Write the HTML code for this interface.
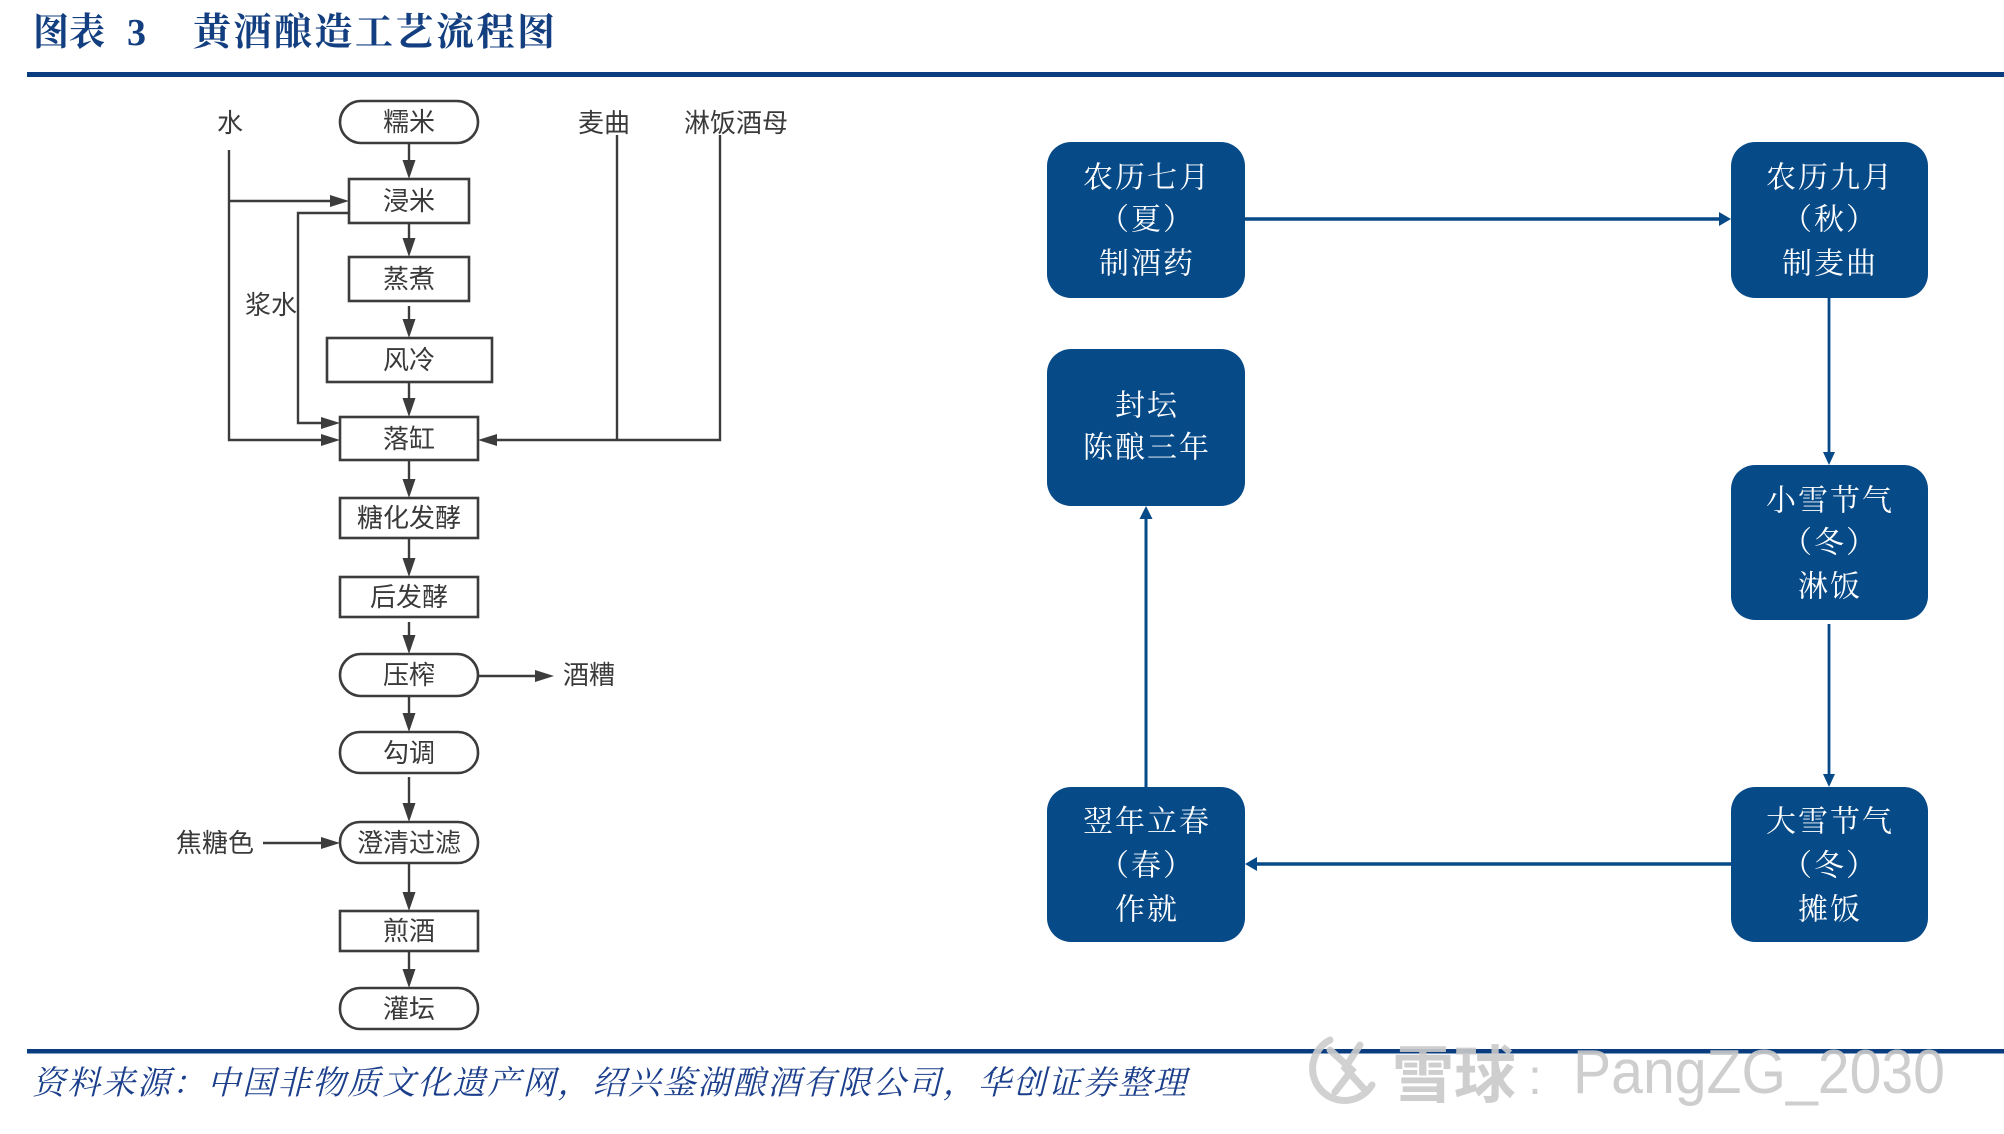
<!DOCTYPE html>
<html>
<head>
<meta charset="utf-8">
<style>
  html,body{margin:0;padding:0;background:#fff;}
  body{width:2004px;height:1134px;overflow:hidden;}
  svg{display:block;}
  .lb{font-family:"Liberation Sans","Noto Sans CJK SC",sans-serif;font-size:26px;fill:#3a3a3a;}
  .bx{fill:#fff;stroke:#3c3c3c;stroke-width:2.6;}
  .ln{stroke:#3c3c3c;stroke-width:2.4;fill:none;}
  .ah{fill:#3c3c3c;}
  .bb{fill:#074a88;}
  .bt{font-family:"Liberation Serif","Noto Serif CJK SC",serif;font-size:30px;fill:#fff;}
  .bl{stroke:#074a88;fill:none;}
  .ba{fill:#074a88;}
</style>
</head>
<body>
<svg width="2004" height="1134" viewBox="0 0 2004 1134" xmlns="http://www.w3.org/2000/svg">
  <!-- Title -->
  <g font-family="'Liberation Serif','Noto Serif CJK SC',serif" font-weight="bold" fill="#133f80" font-size="38">
    <text x="33" y="45" textLength="72" lengthAdjust="spacingAndGlyphs">图表</text>
    <text x="127" y="45" font-family="'Liberation Serif',serif" font-size="38">3</text>
    <text x="193" y="45" textLength="362" lengthAdjust="spacing">黄酒酿造工艺流程图</text>
  </g>
  <rect x="27" y="72" width="1977" height="5" fill="#0a3c80"/>

  <!-- LEFT FLOWCHART -->
  <!-- boxes -->
  <rect class="bx" x="340" y="101" width="138" height="42" rx="21"/>
  <rect class="bx" x="349" y="179" width="120" height="44"/>
  <rect class="bx" x="349" y="257" width="120" height="44"/>
  <rect class="bx" x="327" y="338" width="165" height="44"/>
  <rect class="bx" x="340" y="417" width="138" height="43"/>
  <rect class="bx" x="340" y="498" width="138" height="40"/>
  <rect class="bx" x="340" y="577" width="138" height="40"/>
  <rect class="bx" x="340" y="654" width="138" height="42" rx="21"/>
  <rect class="bx" x="340" y="732" width="138" height="41" rx="20"/>
  <rect class="bx" x="340" y="822" width="138" height="41" rx="20"/>
  <rect class="bx" x="340" y="911" width="138" height="40"/>
  <rect class="bx" x="340" y="988" width="138" height="41" rx="20"/>

  <g class="lb" text-anchor="middle" dominant-baseline="central">
    <text x="409" y="122">糯米</text>
    <text x="409" y="201">浸米</text>
    <text x="409" y="279">蒸煮</text>
    <text x="409" y="360">风冷</text>
    <text x="409" y="439">落缸</text>
    <text x="409" y="518">糖化发酵</text>
    <text x="409" y="597">后发酵</text>
    <text x="409" y="675">压榨</text>
    <text x="409" y="753">勾调</text>
    <text x="409" y="843">澄清过滤</text>
    <text x="409" y="931">煎酒</text>
    <text x="409" y="1009">灌坛</text>

    <text x="230" y="123">水</text>
    <text x="271" y="305">浆水</text>
    <text x="604" y="123">麦曲</text>
    <text x="736" y="123">淋饭酒母</text>
    <text x="589" y="675">酒糟</text>
    <text x="215" y="843">焦糖色</text>
  </g>

  <!-- vertical main arrows -->
  <g class="ln">
    <line x1="409" y1="143" x2="409" y2="165"/>
    <line x1="409" y1="223" x2="409" y2="243"/>
    <line x1="409" y1="306" x2="409" y2="324"/>
    <line x1="409" y1="382" x2="409" y2="403"/>
    <line x1="409" y1="460" x2="409" y2="484"/>
    <line x1="409" y1="538" x2="409" y2="563"/>
    <line x1="409" y1="622" x2="409" y2="640"/>
    <line x1="409" y1="696" x2="409" y2="718"/>
    <line x1="409" y1="777" x2="409" y2="808"/>
    <line x1="409" y1="863" x2="409" y2="897"/>
    <line x1="409" y1="951" x2="409" y2="974"/>
  </g>
  <g class="ah">
    <polygon points="402.5,160 415.5,160 409,179"/>
    <polygon points="402.5,238 415.5,238 409,257"/>
    <polygon points="402.5,319 415.5,319 409,338"/>
    <polygon points="402.5,398 415.5,398 409,417"/>
    <polygon points="402.5,479 415.5,479 409,498"/>
    <polygon points="402.5,558 415.5,558 409,577"/>
    <polygon points="402.5,635 415.5,635 409,654"/>
    <polygon points="402.5,713 415.5,713 409,732"/>
    <polygon points="402.5,803 415.5,803 409,822"/>
    <polygon points="402.5,892 415.5,892 409,911"/>
    <polygon points="402.5,969 415.5,969 409,988"/>
  </g>

  <!-- side connectors -->
  <g class="ln">
    <!-- 水 -->
    <polyline points="229,150 229,440 324,440"/>
    <line x1="229" y1="201" x2="333" y2="201"/>
    <!-- 浆水 -->
    <polyline points="349,213 298,213 298,423 324,423"/>
    <!-- 麦曲 / 淋饭酒母 -->
    <line x1="617" y1="135" x2="617" y2="440"/>
    <polyline points="720,135 720,440 494,440"/>
    <!-- 酒糟 -->
    <line x1="478" y1="676" x2="538" y2="676"/>
    <!-- 焦糖色 -->
    <line x1="263" y1="843" x2="324" y2="843"/>
  </g>
  <g class="ah">
    <polygon points="321,434 321,446 340,440"/>
    <polygon points="330,195 330,207 349,201"/>
    <polygon points="321,417 321,429 340,423"/>
    <polygon points="497,434 497,446 478,440"/>
    <polygon points="535,670 535,682 554,676"/>
    <polygon points="321,837 321,849 340,843"/>
  </g>

  <!-- RIGHT DIAGRAM -->
  <!-- connectors -->
  <line class="bl" x1="1245" y1="219" x2="1722" y2="219" stroke-width="3.5"/>
  <polygon class="ba" points="1719,212 1719,226 1731,219"/>
  <line class="bl" x1="1829" y1="298" x2="1829" y2="455" stroke-width="2.8"/>
  <polygon class="ba" points="1823,452 1835,452 1829,465"/>
  <line class="bl" x1="1829" y1="624" x2="1829" y2="777" stroke-width="2.8"/>
  <polygon class="ba" points="1823,774 1835,774 1829,787"/>
  <line class="bl" x1="1731" y1="864" x2="1254" y2="864" stroke-width="3.5"/>
  <polygon class="ba" points="1257,857 1257,871 1245,864"/>
  <line class="bl" x1="1146" y1="787" x2="1146" y2="516" stroke-width="3"/>
  <polygon class="ba" points="1139.5,519 1152.5,519 1146,506"/>

  <!-- boxes -->
  <rect class="bb" x="1047" y="142" width="198" height="156" rx="24"/>
  <rect class="bb" x="1731" y="142" width="197" height="156" rx="24"/>
  <rect class="bb" x="1047" y="349" width="198" height="157" rx="24"/>
  <rect class="bb" x="1731" y="465" width="197" height="155" rx="24"/>
  <rect class="bb" x="1047" y="787" width="198" height="155" rx="24"/>
  <rect class="bb" x="1731" y="787" width="197" height="155" rx="24"/>

  <g class="bt" text-anchor="middle" dominant-baseline="central">
    <text x="1146" y="178" textLength="126" lengthAdjust="spacing">农历七月</text>
    <text x="1146" y="220" textLength="94" lengthAdjust="spacing">（夏）</text>
    <text x="1146" y="264" textLength="94" lengthAdjust="spacing">制酒药</text>

    <text x="1829" y="178" textLength="126" lengthAdjust="spacing">农历九月</text>
    <text x="1829" y="220" textLength="94" lengthAdjust="spacing">（秋）</text>
    <text x="1829" y="264" textLength="94" lengthAdjust="spacing">制麦曲</text>

    <text x="1146" y="406" textLength="62" lengthAdjust="spacing">封坛</text>
    <text x="1146" y="448" textLength="126" lengthAdjust="spacing">陈酿三年</text>

    <text x="1829" y="501" textLength="126" lengthAdjust="spacing">小雪节气</text>
    <text x="1829" y="543" textLength="94" lengthAdjust="spacing">（冬）</text>
    <text x="1829" y="587" textLength="62" lengthAdjust="spacing">淋饭</text>

    <text x="1146" y="822" textLength="126" lengthAdjust="spacing">翌年立春</text>
    <text x="1146" y="866" textLength="94" lengthAdjust="spacing">（春）</text>
    <text x="1146" y="910" textLength="62" lengthAdjust="spacing">作就</text>

    <text x="1829" y="822" textLength="126" lengthAdjust="spacing">大雪节气</text>
    <text x="1829" y="866" textLength="94" lengthAdjust="spacing">（冬）</text>
    <text x="1829" y="910" textLength="62" lengthAdjust="spacing">摊饭</text>
  </g>

  <!-- bottom rule -->
  <rect x="27" y="1049" width="1977" height="4.5" fill="#0a3c80"/>

  <!-- source -->
  <text x="32" y="1094" font-family="'Liberation Serif','Noto Serif CJK SC',serif" font-style="italic" font-size="33" fill="#1c3f8c" textLength="1154" lengthAdjust="spacing">资料来源：中国非物质文化遗产网，绍兴鉴湖酿酒有限公司，华创证券整理</text>

  <!-- watermark -->
  <g opacity="0.9">
    <g fill="none" stroke="#cdcdcd" stroke-width="7" stroke-linecap="round">
      <path d="M1330,1040 A32,32 0 1 0 1372,1085"/>
      <path d="M1330,1050 L1352,1070 L1335,1092"/>
      <path d="M1360,1045 L1345,1068 L1365,1090"/>
    </g>
    <text x="1392" y="1097" font-family="'Liberation Sans','Noto Sans CJK SC',sans-serif" font-size="62" fill="#c9c9c9" font-weight="bold">雪球</text>
    <text x="1528" y="1094" font-family="'Liberation Sans','Noto Sans CJK SC',sans-serif" font-size="50" fill="#c9c9c9">:</text>
    <text x="1573" y="1093" font-family="'Liberation Sans',sans-serif" font-size="62" fill="#c9c9c9" textLength="372" lengthAdjust="spacingAndGlyphs">PangZG_2030</text>
  </g>
</svg>
</body>
</html>
